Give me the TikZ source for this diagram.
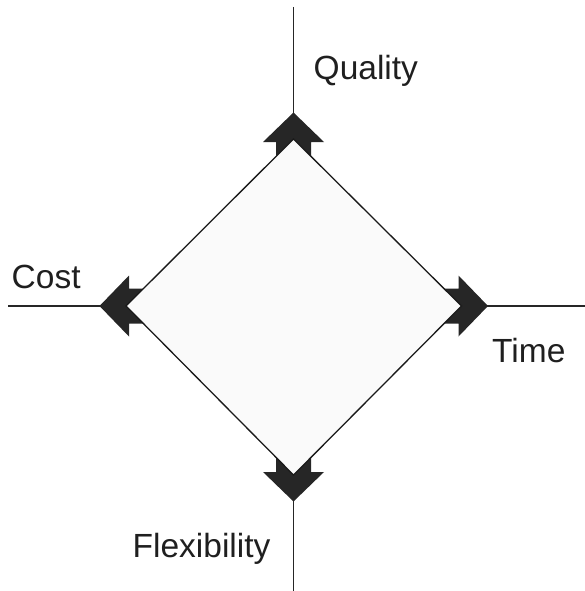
\documentclass[tikz,border=0pt]{standalone}
\usepackage{fontspec}
\setmainfont{Liberation Sans}
\begin{document}
\begin{tikzpicture}[x=1pt,y=-1pt,
    axis/.style={line width=1.7pt,draw=black!85},
    head/.style={fill=black!85},
    square/.style={line width=1.3pt,draw=black!90,fill=gray!4},
    label/.style={anchor=base west,inner sep=0pt,font=\fontsize{33.5}{40}\selectfont,text=black!88}]
  \useasboundingbox (0,0) rectangle (585,591);
  % axes
  \coordinate (north) at (293.5,7);
  \coordinate (south) at (293.5,591);
  \coordinate (west) at (8,306);
  \coordinate (east) at (585,306);
  \draw[axis] (north) -- (south);
  \draw[axis] (west) -- (east);
  % corners of the square
  \coordinate (q) at (293.5,139);
  \coordinate (t) at (461.5,306);
  \coordinate (f) at (293.5,475);
  \coordinate (c) at (126,306);
  % arrow heads
  \foreach \v/\a in {q/0,t/-90,f/180,c/90}{
    \fill[head,shift={(\v)},rotate=\a] (0,-26.5) -- (30.5,3) -- (17.5,3) -- (17.5,24)
      -- (-17.5,24) -- (-17.5,3) -- (-30.5,3) -- cycle;
  }
  \draw[square] (q) -- (t) -- (f) -- (c) -- cycle;
  % labels
  \node[label] (quality) at (313.5,80) {Quality};
  \node[label] (cost) at (11.5,288.5) {Cost};
  \node[label] (time) at (492,362) {Time};
  \node[label] (flex) at (132.5,557) {Flexibility};
\end{tikzpicture}
\end{document}
